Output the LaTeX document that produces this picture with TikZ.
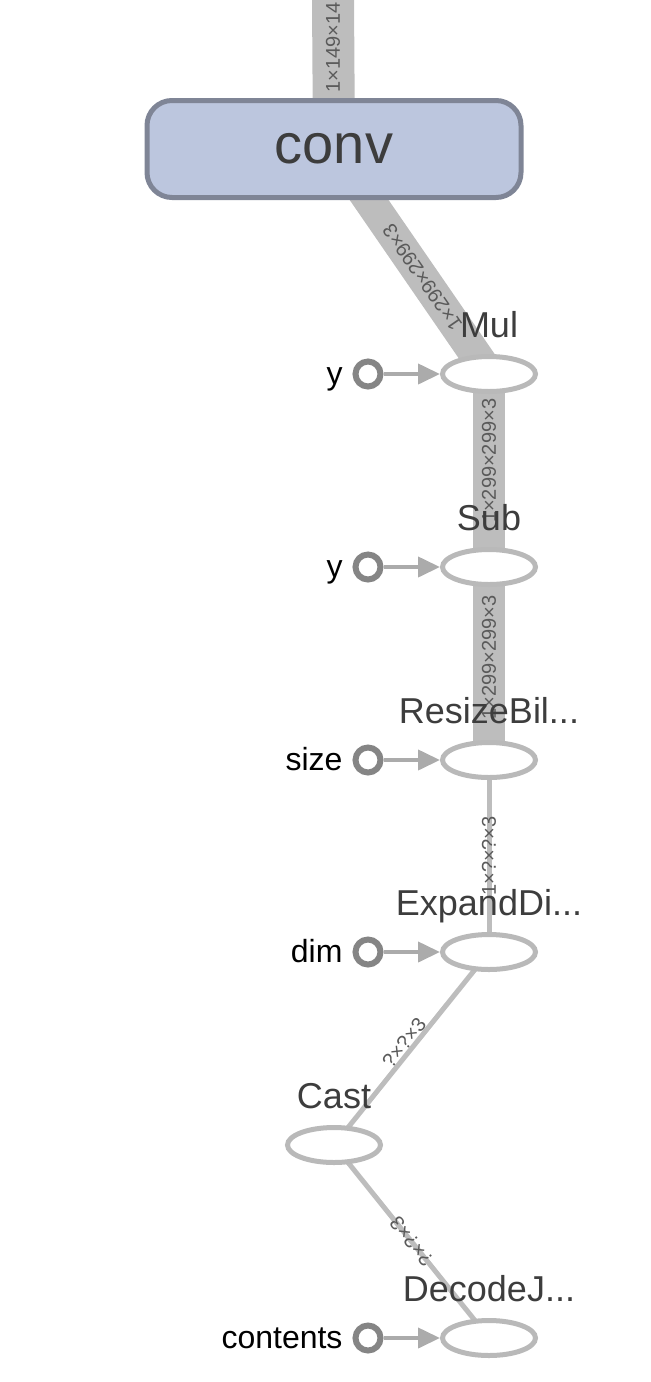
\documentclass[tikz,border=0pt]{standalone}
\usepackage{fontspec}
\setmainfont{Liberation Sans}
\usetikzlibrary{arrows.meta,backgrounds,calc,positioning,shapes.geometric}

\definecolor{bandgray}{HTML}{BDBDBD}
\definecolor{opgray}{HTML}{B9B9B9}
\definecolor{ingray}{HTML}{858585}
\definecolor{feedgray}{HTML}{ABABAB}
\definecolor{convfill}{HTML}{BCC6DE}
\definecolor{convborder}{HTML}{7F8596}
\definecolor{labeltext}{HTML}{3D3D3D}
\definecolor{edgetext}{HTML}{5A5A5A}

\tikzset{
  convbox/.style={rectangle, rounded corners=12.5pt, draw=convborder, fill=convfill, line width=2.5pt,
    minimum width=187pt, minimum height=48.5pt, text=labeltext, font=\fontsize{28}{32}\selectfont},
  opnode/.style={ellipse, draw=opgray, fill=white, line width=2.5pt, minimum width=46.5pt,
    minimum height=17.5pt, inner sep=0pt},
  innode/.style={circle, draw=ingray, fill=white, line width=3pt, minimum size=12.5pt, inner sep=0pt},
  nlabel/.style={text=labeltext, font=\fontsize{18}{20}\selectfont, anchor=base, inner sep=0pt},
  inlabel/.style={font=\fontsize{16}{19}\selectfont, anchor=base east, inner sep=0pt, outer sep=0pt},
  elabel/.style={text=edgetext, font=\fontsize{10}{12}\selectfont, inner sep=1pt},
  band/.style={draw=bandgray, line width=16pt},
  thinedge/.style={draw=bandgray, line width=2.5pt},
  feed/.style={draw=feedgray, line width=2pt, -{Triangle[length=11pt,width=10pt]}},
}

\begin{document}
\begin{tikzpicture}[x=0.5pt,y=-0.5pt]
  \useasboundingbox (0,0) rectangle (651,1382);
  \clip (0,0) rectangle (651,1382);

  \node[convbox] (conv) at (334,149) {conv};

  \node[opnode] (mul) at (489,374) {};
  \node[opnode] (sub) at (489,567) {};
  \node[opnode] (resize) at (489,760) {};
  \node[opnode] (expand) at (489,952) {};
  \node[opnode] (cast) at (334,1145) {};
  \node[opnode] (decode) at (489,1338) {};

  \node[nlabel] (mul-lbl) at ($(mul)+(0,-37)$) {Mul};
  \node[nlabel] (sub-lbl) at ($(sub)+(0,-37)$) {Sub};
  \node[nlabel] (resize-lbl) at ($(resize)+(0,-37)$) {ResizeBil...};
  \node[nlabel] (expand-lbl) at ($(expand)+(0,-37)$) {ExpandDi...};
  \node[nlabel] (cast-lbl) at ($(cast)+(0,-37)$) {Cast};
  \node[nlabel] (decode-lbl) at ($(decode)+(0,-37)$) {DecodeJ...};

  % inputs on the left
  \foreach \op/\txt in {mul/y, sub/y, resize/size, expand/dim, decode/contents} {
    \node[innode] (\op-in) at ($(\op)+(-121,0)$) {};
    \node[inlabel] (\op-inlbl) at ($(\op-in.west)+(-10,10)$) {\txt};
    \draw[feed] (\op-in) -- (\op);
  }

  \begin{scope}[on background layer]
    \coordinate (top) at (333,0);
    \draw[band, line width=21pt] (top) -- (conv.center);
    \draw[band] (conv.center) -- (mul.center);
    \draw[band] (mul.center) -- (sub.center);
    \draw[band] (sub.center) -- (resize.center);
    \draw[thinedge] (resize.center) -- (expand.center);
    \draw[thinedge] (expand.center) -- (cast.center);
    \draw[thinedge] (cast.center) -- (decode.center);

    \node[elabel, rotate=90, anchor=west, inner sep=0pt] (top-lbl) at (333,93) {1×149×14};
    \path (mul.center) -- node[elabel, sloped, allow upside down, pos=0.43] (convmul-lbl) {1×299×299×3} (conv.center);
    \path (sub.center) -- node[elabel, sloped, pos=0.55] (mulsub-lbl) {1×299×299×3} (mul.center);
    \path (resize.center) -- node[elabel, sloped, pos=0.53] (subresize-lbl) {1×299×299×3} (sub.center);
    \path (expand.center) -- node[elabel, sloped, pos=0.5] (resizeexpand-lbl) {1×?×?×3} (resize.center);
    \path (cast.center) -- node[elabel, sloped, above=0pt, pos=0.5] (expandcast-lbl) {?×?×3} (expand.center);
    \path (decode.center) -- node[elabel, sloped, allow upside down, pos=0.5] (castdecode-lbl) {?×?×3} (cast.center);
  \end{scope}
\end{tikzpicture}
\end{document}
